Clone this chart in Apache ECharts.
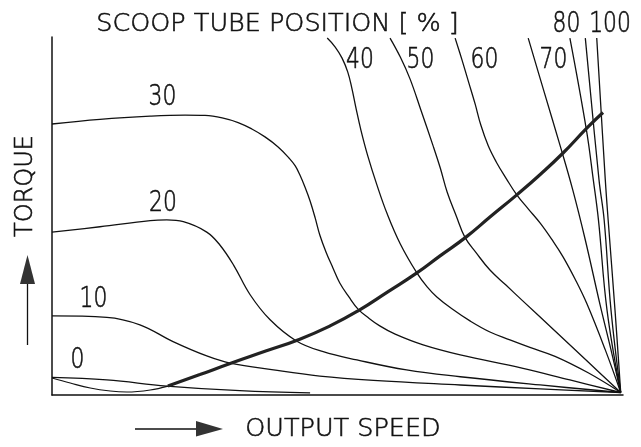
<!DOCTYPE html>
<html>
<head>
<meta charset="utf-8">
<script src="https://cdn.jsdelivr.net/npm/echarts@6/dist/echarts.min.js"></script>
<style>html,body{margin:0;padding:0;background:#fff;}#c{width:641px;height:447px;}</style>
</head>
<body>
<div id="c"></div>
<script>
// Scoop tube position curves: [output speed %, torque %]
const scoop0 = [[0,4.9],[9.6,4.2],[20.1,2.5],[32.9,1.2],[45.2,0.6]];
const scoop10 = [[0,22.1],[9.6,21.7],[15.4,19.6],[21.2,14.9],[27.1,10.9],[31.2,8.9],[38.8,7.0],[46.9,5.3],[56.3,4.1],[71.5,2.8],[85.5,1.7],[99.6,0.7]];
const scoop20 = [[0,45.5],[8.4,47.0],[17.2,48.7],[20.1,48.9],[23.0,48.4],[27.1,45.5],[29.4,41.9],[31.8,36.3],[34.7,28.0],[38.2,21.0],[42.8,15.1],[47.5,12.1],[53.4,9.8],[62.1,7.0],[71.5,5.1],[85.5,2.8],[99.6,0.7]];
const scoop30 = [[0,75.7],[8.4,77.0],[17.2,77.9],[23.3,78.2],[26.8,78.1],[29.8,77.4],[32.6,76.1],[35.0,74.3],[37.3,72.1],[39.6,69.3],[41.5,66.2],[42.6,64.0],[43.4,61.5],[44.3,58.1],[45.2,54.2],[46.1,49.4],[46.9,44.7],[48.0,39.9],[49.2,35.5],[50.4,31.3],[52.0,27.4],[53.6,24.0],[55.3,21.7],[57.4,19.3],[60.1,17.0],[65.0,14.0],[71.5,11.2],[82.3,7.5],[90.7,4.2],[99.6,0.7]];
const scoop40 = [[48.2,99.7],[49.6,97.2],[50.8,94.1],[51.8,90.2],[52.5,85.8],[53.2,80.4],[54.1,74.0],[55.3,66.8],[56.9,58.7],[58.7,50.6],[61.0,42.2],[63.9,34.1],[65.7,30.2],[67.4,27.4],[70.1,24.0],[73.2,20.7],[76.7,17.6],[80.2,15.4],[83.7,13.3],[88.1,10.8],[93.9,6.2],[99.6,0.7]];
const scoop50 = [[59.2,99.7],[61.0,94.4],[62.7,88.3],[64.6,79.6],[66.7,69.8],[68.0,63.4],[69.2,56.7],[70.8,50.0],[72.3,44.1],[74.3,39.7],[76.7,34.9],[79.5,30.7],[82.3,26.5],[88.1,17.9],[93.9,9.2],[99.6,0.7]];
const scoop60 = [[70.6,99.7],[71.8,93.6],[73.0,87.2],[74.1,81.3],[75.1,75.4],[76.4,69.6],[77.8,65.1],[79.5,60.6],[81.4,55.9],[83.4,52.0],[85.5,48.0],[87.6,43.3],[89.5,38.6],[91.6,32.4],[93.7,25.4],[96.9,12.6],[99.6,0.7]];
const scoop70 = [[83.4,99.7],[86.2,84.6],[89.0,69.6],[91.2,57.3],[93.4,43.3],[96.0,25.1],[97.9,12.6],[99.6,0.7]];
const scoop80 = [[90.7,99.7],[93.6,74.0],[94.8,60.1],[95.7,48.9],[97.2,23.7],[99.6,0.7]];
const scoop90 = [[93.4,99.7],[95.8,60.1],[96.7,48.9],[97.9,23.7],[99.6,0.7]];
const scoop100 = [[95.4,99.7],[96.9,60.1],[97.4,48.9],[98.6,23.7],[99.6,0.7]];
// Load (driven machine) torque curve
const loadLow = [[0,4.75],[3.2,3.35],[6.7,1.96],[10.2,1.12],[13.1,0.84],[17.2,1.4],[20.3,2.5]];
const loadHigh = [[20.3,2.5],[25.9,5.7],[31.2,8.8],[37.3,12.2],[43.4,15.6],[48.7,19.3],[53.6,23.5],[58.8,28.8],[63.9,34.1],[67.9,38.8],[72.5,44.1],[76.7,49.7],[81.4,55.9],[85.5,61.6],[89.5,67.6],[93.7,74.6],[96.5,78.9]];

const curveNames = ['0','10','20','30','40','50','60','70','80','90','100'];
const curveData = [scoop0,scoop10,scoop20,scoop30,scoop40,scoop50,scoop60,scoop70,scoop80,scoop90,scoop100];
const titleText = 'SCOOP TUBE POSITION [ % ]';
const yTitle = 'TORQUE';
const xTitle = 'OUTPUT SPEED';

const chart = echarts.init(document.getElementById('c'), null, {renderer:'canvas'});
const ink = '#111';
const FONT = 'DejaVu Sans';

const series = curveData.map((d,i)=>({
  name: curveNames[i], type:'line', data:d, showSymbol:false, smooth:0.4,
  lineStyle:{color:ink,width:1.3}, silent:true, z:3
}));
series.push({name:'loadLow',type:'line',data:loadLow,showSymbol:false,smooth:0.4,lineStyle:{color:ink,width:1.2},silent:true,z:3});
series.push({name:'loadHigh',type:'line',data:loadHigh,showSymbol:false,smooth:0.5,lineStyle:{color:'#222',width:3.2},silent:true,z:4});

function txt(text,x,y,size,sx,rot){
  return {type:'text',x:x,y:y,scaleX:sx||1,rotation:rot||0,z:10,
    style:{text:text,fontSize:size,fontFamily:FONT,fontWeight:200,fill:ink,stroke:ink,lineWidth:0.6,align:'center',verticalAlign:'middle'}};
}
// curve label positions (pixel)
const labelPos = {'0':[77.5,361],'10':[93.5,300],'20':[163,204],'30':[162.5,98],'40':[360,61],'50':[420.5,61],'60':[484.5,61],'70':[553.5,61],'80':[566.5,25],'100':[610,25]};
const graphics = [];
graphics.push(txt(titleText,277.5,24,25.5,1));
graphics.push(txt(xTitle,343,429,25.5,1));
graphics.push(txt(yTitle,26,186,24,1,Math.PI/2));
Object.keys(labelPos).forEach(k=>{
  graphics.push(txt(k,labelPos[k][0],labelPos[k][1],28,0.78));
});
// arrows
graphics.push({type:'line',shape:{x1:27.5,y1:345,x2:27.5,y2:282},style:{stroke:ink,lineWidth:1.3},z:10});
graphics.push({type:'polygon',shape:{points:[[20,284],[35,284],[27.5,255]]},style:{fill:'#333'},z:10});
graphics.push({type:'line',shape:{x1:135,y1:429,x2:198,y2:429},style:{stroke:ink,lineWidth:1.3},z:10});
graphics.push({type:'polygon',shape:{points:[[196,421],[196,436.5],[223,429]]},style:{fill:'#333'},z:10});

chart.setOption({
  animation:false,
  backgroundColor:'#fff',
  grid:{left:52,top:37,right:18,bottom:52,containLabel:false},
  xAxis:{type:'value',min:0,max:100,axisLine:{show:true,onZero:false,lineStyle:{color:ink,width:1.5}},axisTick:{show:false},axisLabel:{show:false},splitLine:{show:false}},
  yAxis:{type:'value',min:0,max:100,axisLine:{show:true,onZero:false,lineStyle:{color:ink,width:1.5}},axisTick:{show:false},axisLabel:{show:false},splitLine:{show:false}},
  series:series,
  graphic:graphics
});
</script>
</body>
</html>
